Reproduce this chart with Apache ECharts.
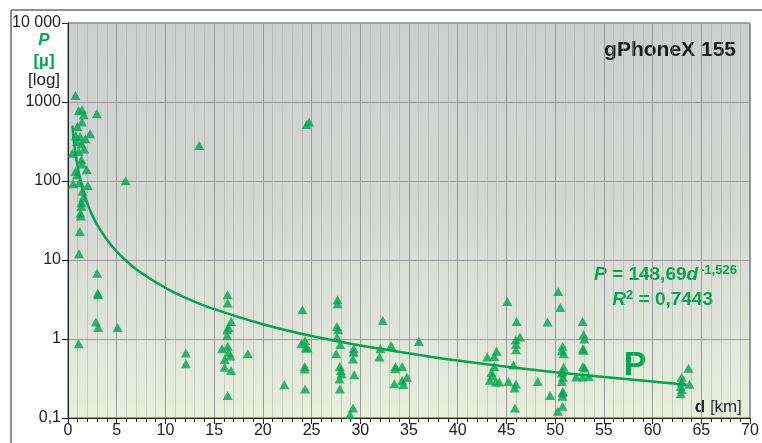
<!DOCTYPE html>
<html>
<head>
<meta charset="utf-8">
<script src="https://cdn.jsdelivr.net/npm/echarts@6/dist/echarts.min.js"></script>
<style>
  html, body { margin: 0; padding: 0; background: #fff; }
  #chart { width: 762px; height: 443px; }
</style>
</head>
<body>
<div id="chart"></div>
<script>
// measured points: distance (km) and P value, same order
const distKm = [
  0.76, 1.10, 1.44, 1.62, 2.96, 1.44, 0.97, 2.27, 0.79, 1.24, 1.79, 0.93, 1.38, 1.65, 0.45,
  1.10, 1.38, 1.44, 0.76, 1.93, 0.93, 0.52, 1.21, 2.03, 5.92, 1.48, 1.55, 1.38, 1.38, 1.31,
  1.28, 1.21, 1.13, 2.99, 3.09, 3.05, 2.86, 3.09, 5.09, 1.10, 12.1, 12.1, 13.47, 24.5, 24.75,
  16.39, 16.39, 16.74, 16.49, 16.33, 16.33, 15.81, 16.39, 16.67, 16.08, 16.08, 16.74, 16.39, 16.5,
  18.45, 22.2, 24.06, 24.33, 23.96, 24.4, 24.58, 24.3, 24.3, 24.33,
  27.67, 27.67, 27.6, 27.73, 27.6, 27.94, 27.53, 28.0, 28.07, 27.87, 27.9, 27.9,
  29.32, 29.32, 29.25, 29.38, 29.25, 28.94,
  32.31, 32.06, 31.96, 33.16, 33.61, 33.61, 34.3, 33.5, 34.3, 34.78, 34.43, 36.02,
  43.03, 43.75, 43.99, 43.47, 43.75, 43.3, 43.92, 44.27, 43.58,
  45.09, 45.71, 45.2, 46.05, 46.39, 45.95, 45.98, 45.98, 45.98, 45.85, 45.88,
  48.22, 49.22, 49.48, 50.31, 50.52, 50.76, 50.69, 50.87, 50.87, 50.76, 50.69, 50.8, 50.69,
  50.8, 50.76, 50.76, 50.76, 50.28,
  52.16, 52.82, 52.93, 52.99, 52.86, 52.9, 52.86, 53.03, 52.82, 53.44,
  62.99, 62.99, 62.89, 62.99, 62.89, 63.68, 63.78
];
const powerMu = [
  1210, 776, 800, 690, 711, 558, 491, 397, 374, 367, 340, 317, 297, 254, 224,
  237, 186, 164, 132, 139, 120, 92, 96, 87, 101, 74, 61, 53, 48, 36,
  39, 23, 12, 6.8, 3.64, 3.8, 1.64, 1.40, 1.40, 0.87, 0.665, 0.487, 282, 520, 560,
  3.64, 2.86, 1.67, 1.40, 1.31, 1.10, 0.75, 0.81, 0.61, 0.55, 0.44, 0.40, 0.193, 0.68,
  0.65, 0.264, 2.35, 0.96, 0.87, 0.77, 0.77, 0.417, 0.45, 0.233,
  3.15, 2.80, 1.44, 1.31, 1.05, 0.85, 0.65, 0.40, 0.364, 0.312, 0.233, 0.45,
  0.75, 0.68, 0.56, 0.353, 0.134, 0.110,
  1.71, 0.75, 0.59, 0.83, 0.45, 0.42, 0.45, 0.272, 0.299, 0.327, 0.266, 0.93,
  0.59, 0.60, 0.70, 0.378, 0.45, 0.30, 0.286, 0.286, 0.343,
  2.99, 0.47, 0.29, 1.67, 1.06, 0.98, 0.86, 0.73, 0.269, 0.240, 0.134,
  0.29, 1.64, 0.193, 4.0, 2.51, 0.81, 0.71, 0.65, 0.44, 0.389, 0.37, 0.327, 0.29,
  0.217, 0.207, 0.188, 0.141, 0.122,
  0.330, 1.67, 1.13, 1.0, 0.75, 0.72, 0.45, 0.43, 0.330, 0.336,
  0.327, 0.286, 0.251, 0.228, 0.203, 0.427, 0.268
];
// fitted curve
const trendKm = [0.45, 0.55, 0.7, 1, 1.2, 1.5, 2, 2.5, 3, 4, 5, 7, 10, 12, 15, 20, 25, 30, 40, 50, 63.5];
const trendMu = [503, 370, 256, 149, 112.6, 80, 51.7, 36.7, 27.8, 18.0, 12.8, 7.64, 4.43, 3.35, 2.39, 1.54, 1.09, 0.83, 0.534, 0.38, 0.264];

const green = '#00a651';
const narrow = "'Liberation Sans Narrow', 'Liberation Sans', Arial, sans-serif";

const myChart = echarts.init(document.getElementById('chart'));
const option = {
  backgroundColor: '#fff',
  animation: false,
  grid: {
    left: 68, top: 23, right: 12, bottom: 25,
    show: true,
    borderColor: '#4a4a4a',
    borderWidth: 1,
    backgroundColor: {
      type: 'linear', x: 0, y: 0, x2: 0, y2: 1,
      colorStops: [
        { offset: 0, color: '#cdcfcf' },
        { offset: 0.45, color: '#d3d6d3' },
        { offset: 1, color: '#e8efda' }
      ]
    }
  },
  xAxis: {
    type: 'value',
    min: 0, max: 70, interval: 5,
    axisLine: { lineStyle: { color: '#222', width: 1 } },
    axisTick: { show: true, length: 6, lineStyle: { color: '#222' } },
    minorTick: { show: true, splitNumber: 5, length: 4, lineStyle: { color: '#222' } },
    splitLine: { show: true, lineStyle: { color: '#9a9c9c', width: 1 } },
    minorSplitLine: { show: true, lineStyle: { color: 'rgba(160,166,162,0.45)', width: 1 } },
    axisLabel: { color: '#222', fontSize: 16, fontFamily: narrow, margin: 5 }
  },
  yAxis: {
    type: 'log',
    logBase: 10,
    min: 0.1, max: 10000,
    axisLine: { show: true, lineStyle: { color: '#222', width: 1 } },
    axisTick: { show: true, length: 6, lineStyle: { color: '#222' } },
    splitLine: { show: true, lineStyle: { color: '#9a9c9c', width: 1 } },
    axisLabel: {
      color: '#222', fontSize: 16, fontFamily: narrow, margin: 7,
      formatter: function (v) {
        if (v >= 10000) return '10 000';
        return String(v).replace('.', ',');
      }
    }
  },
  series: [
    {
      type: 'line',
      data: trendKm.map((d, i) => [d, trendMu[i]]),
      smooth: 0.3,
      showSymbol: false,
      lineStyle: { color: green, width: 2.5 },
      z: 2
    },
    {
      type: 'scatter',
      data: distKm.map((d, i) => [d, powerMu[i]]),
      symbol: 'triangle',
      symbolSize: [10, 9],
      itemStyle: { color: green },
      z: 3
    }
  ],
  graphic: [
    // outer frame
    { type: 'line', shape: { x1: 11, y1: 10, x2: 762, y2: 10 }, style: { stroke: '#6a6a6a', lineWidth: 1.5 } },
    { type: 'line', shape: { x1: 11, y1: 10, x2: 11, y2: 443 }, style: { stroke: '#6a6a6a', lineWidth: 1.5 } },
    // y axis name
    { type: 'text', x: 44, y: 40, style: { text: 'P', fill: green, font: 'italic bold 17px ' + narrow, align: 'center', verticalAlign: 'middle' } },
    { type: 'text', x: 44, y: 61, style: { text: '[µ]', fill: green, font: 'bold 17px ' + narrow, align: 'center', verticalAlign: 'middle' } },
    { type: 'text', x: 44, y: 80, style: { text: '[log]', fill: '#222', font: '17px ' + narrow, align: 'center', verticalAlign: 'middle' } },
    // title
    { type: 'text', x: 736, y: 50, style: { text: 'gPhoneX 155', fill: '#1a1a1a', font: 'bold 21px ' + narrow, align: 'right', verticalAlign: 'middle' } },
    // equation
    {
      type: 'text', x: 737, y: 275,
      style: {
        text: '{i|P} = 148,69{i|d}{s|-1,526}',
        align: 'right', verticalAlign: 'middle',
        fill: green, font: 'bold 19px ' + narrow,
        rich: {
          i: { fill: green, font: 'italic bold 19px ' + narrow, lineHeight: 22 },
          s: { fill: green, font: 'bold 13px ' + narrow, lineHeight: 22, verticalAlign: 'top', padding: [0, 0, 7, 2] }
        }
      }
    },
    {
      type: 'text', x: 713, y: 300,
      style: {
        text: '{i|R}{s|2} = 0,7443',
        align: 'right', verticalAlign: 'middle',
        fill: green, font: 'bold 19px ' + narrow,
        rich: {
          i: { fill: green, font: 'italic bold 19px ' + narrow, lineHeight: 22 },
          s: { fill: green, font: 'bold 13px ' + narrow, lineHeight: 22, verticalAlign: 'top', padding: [0, 0, 7, 0] }
        }
      }
    },
    // series label
    { type: 'text', x: 635, y: 366, style: { text: 'P', fill: green, font: 'bold 34px ' + narrow, align: 'center', verticalAlign: 'middle' } },
    // x axis name
    {
      type: 'text', x: 742, y: 407,
      style: {
        text: '{b|d} [km]', align: 'right', verticalAlign: 'middle',
        fill: '#222', font: '17px ' + narrow,
        rich: { b: { fill: '#222', font: 'bold 17px ' + narrow } }
      }
    }
  ]
};
myChart.setOption(option);
</script>
</body>
</html>
